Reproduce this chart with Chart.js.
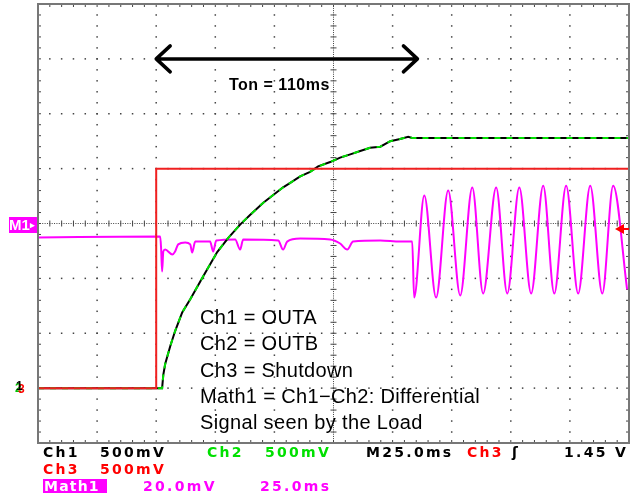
<!DOCTYPE html>
<html>
<head>
<meta charset="utf-8">
<script src="https://cdn.jsdelivr.net/npm/chart.js@4.4.1/dist/chart.umd.min.js"></script>
<style>
  body { margin: 0; background: #fff; }
  #wrap { position: relative; width: 634px; height: 499px; overflow: hidden; }
  #scope { position: absolute; left: 0; top: 0; }
  .t { position: absolute; white-space: nowrap; }
  .st { font: bold 14px "DejaVu Sans", sans-serif; line-height: 14px; letter-spacing: 2.3px; }
  .note { font: 20px "Liberation Sans", Arial, sans-serif; line-height: 26.25px; letter-spacing: 0.35px; color: #000; }
</style>
</head>
<body>
<div id="wrap">
  <canvas id="scope" width="634" height="499"></canvas>

  <div class="t" style="left:229px;top:77px;font:bold 16px 'Liberation Sans',Arial,sans-serif;line-height:16px;letter-spacing:0.5px;">Ton = 110ms</div>

  <div class="t note" style="left:200px;top:304px;">Ch1 = OUTA<br>Ch2 = OUTB<br>Ch3 = Shutdown<br>Math1 = Ch1&minus;Ch2: Differential<br>Signal seen by the Load</div>

  <div class="t" style="left:9px;top:217px;width:28px;height:16px;background:#ff00ff;color:#fff;font:bold 15px 'Liberation Sans',Arial,sans-serif;line-height:16px;">M1<span style="font-size:9px;vertical-align:2px;">&#9656;</span></div>
  <div class="t" style="left:15px;top:381px;font:bold 12px 'Liberation Sans',Arial,sans-serif;line-height:14px;color:#00c000;">2</div>
  <div class="t" style="left:18px;top:382px;font:bold 12px 'Liberation Sans',Arial,sans-serif;line-height:14px;color:#ff0000;">3</div>
  <div class="t" style="left:16px;top:379px;font:bold 12px 'Liberation Sans',Arial,sans-serif;line-height:14px;color:#000;">1</div>

  <div class="t st" style="left:43px;top:445px;color:#000;">Ch1</div>
  <div class="t st" style="left:100px;top:445px;color:#000;">500mV</div>
  <div class="t st" style="left:207px;top:445px;color:#00e000;">Ch2</div>
  <div class="t st" style="left:265px;top:445px;color:#00e000;">500mV</div>
  <div class="t st" style="left:366px;top:445px;color:#000;">M25.0ms</div>
  <div class="t st" style="left:467px;top:445px;color:#ff0000;">Ch3</div>
  <div class="t st" style="left:512px;top:445px;color:#000;">&#643;</div>
  <div class="t st" style="left:564px;top:445px;color:#000;">1.45 V</div>

  <div class="t st" style="left:43px;top:462px;color:#ff0000;">Ch3</div>
  <div class="t st" style="left:100px;top:462px;color:#ff0000;">500mV</div>

  <div class="t st" style="left:43px;top:479px;width:63px;height:14px;background:#ff00ff;color:#fff;letter-spacing:1.2px;padding-left:1px;">Math1</div>
  <div class="t st" style="left:143px;top:479px;color:#ff00ff;">20.0mV</div>
  <div class="t st" style="left:260px;top:479px;color:#ff00ff;">25.0ms</div>
</div>

<script>
// time in ms relative to shutdown edge, 25 ms/div
var chTime = [-50, 2.5, 3.0, 3.8, 5.9, 8.0, 11.0, 14.4, 19.9, 25.8, 30.5, 35.5, 39.8, 45.3, 49.5, 53.7, 56.7,
              60.9, 65.1, 68.5, 73.6, 77.8, 82.1, 86.3, 90.5, 94.8, 99.0, 103.2, 106.6, 108.3, 200];
var ch1Volts = [0, 0, 0.12, 0.22, 0.38, 0.52, 0.69, 0.81, 1.02, 1.24, 1.37, 1.49, 1.58, 1.69, 1.76, 1.83, 1.87,
                1.93, 1.97, 2.02, 2.06, 2.10, 2.13, 2.16, 2.19, 2.20, 2.25, 2.27, 2.29, 2.28, 2.28];
var ch2Volts = [0, 0, 0.12, 0.22, 0.38, 0.52, 0.69, 0.81, 1.02, 1.24, 1.37, 1.49, 1.58, 1.69, 1.76, 1.83, 1.87,
                1.93, 1.97, 2.02, 2.06, 2.10, 2.13, 2.16, 2.19, 2.20, 2.25, 2.27, 2.29, 2.28, 2.28];

var ch3Time = [-50, 0, 0, 200];
var ch3Volts = [0, 0, 2.0, 2.0];

var mathTime = [-50, 1.7, 2.1, 2.5, 3.0, 3.8, 6.8, 8.0, 9.3, 12.3, 14.4, 15.2, 16.5, 22.8, 24.1, 25.4, 33.4, 35.5,
                36.8, 51.6, 53.7, 55.4, 60.9, 73.6, 77.8, 80.8, 83.3, 94.8, 103.2, 108.3,
                109.1, 113.4, 118.4, 123.5, 128.6, 133.7, 138.3, 143.8, 148.5, 153.6, 158.6, 163.7, 168.4,
                173.4, 178.5, 183.6, 188.7, 193.3, 199.2];
var mathMv = [-5.1, -4.7, -9.5, -17.5, -10.2, -9.5, -11.3, -10.2, -7.6, -6.9, -7.6, -10.6, -6.6, -6.6, -10.2, -6.2, -5.8, -9.5,
              -5.8, -6.2, -9.5, -6.6, -5.5, -5.8, -7.3, -9.5, -6.6, -6.2, -6.6, -6.6,
              -27.0, 10.2, -27.0, 12.0, -26.2, 13.1, -25.5, 13.1, -25.5, 13.1, -25.5, 13.8, -25.5,
              13.8, -25.5, 13.8, -25.5, 13.8, -24.0];

var voltsPerDiv = 0.5, chGround = -3;   // ch1..3 ground marker 3 div below centre
var mvPerDiv = 20, mathRef = 0;          // M1 marker at centre
var triggerVolts = 1.45;
var tonStart = 0, tonEnd = 110.5, tonLevel = 3;

function chPoints(t, v) {
    return t.map(function (x, i) { return { x: x, y: v[i] / voltsPerDiv + chGround }; });
}
function mathPoints(t, v) {
    return t.map(function (x, i) { return { x: x, y: v[i] / mvPerDiv + mathRef }; });
}

var graticule = {
    id: 'graticule',
    beforeDatasetsDraw: function (chart) {
        var ctx = chart.ctx, a = chart.chartArea, xs = chart.scales.x, ys = chart.scales.y;
        var dx = (a.right - a.left) / 50, dy = (a.bottom - a.top) / 40;
        var cx = xs.getPixelForValue(75), cy = ys.getPixelForValue(0);
        ctx.save();
        ctx.fillStyle = '#444';
        xs.ticks.forEach(function (tk) {
            var px = xs.getPixelForValue(tk.value);
            if (tk.value === 75 || px <= a.left + 1 || px >= a.right - 1) return;
            for (var j = 1; j < 40; j++) ctx.fillRect(px - 0.75, a.top + j * dy - 0.75, 1.5, 1.5);
        });
        ys.ticks.forEach(function (tk) {
            var py = ys.getPixelForValue(tk.value);
            if (tk.value === 0 || py <= a.top + 1 || py >= a.bottom - 1) return;
            for (var j = 1; j < 50; j++) ctx.fillRect(a.left + j * dx - 0.75, py - 0.75, 1.5, 1.5);
        });
        // centre lines: dense dots with small crosses
        var k;
        for (k = 0; k < 250; k++) ctx.fillRect(a.left + k * dx / 5 - 0.5, cy - 0.5, 1, 1);
        for (k = 0; k < 200; k++) ctx.fillRect(cx - 0.5, a.top + k * dy / 5 - 0.5, 1, 1);
        for (k = 1; k < 50; k++) ctx.fillRect(a.left + k * dx - 0.5, cy - 3, 1, 6);
        for (k = 1; k < 40; k++) ctx.fillRect(cx - 3, a.top + k * dy - 0.5, 6, 1);
        // border ticks
        for (k = 1; k < 50; k++) {
            ctx.fillRect(a.left + k * dx - 0.5, a.top, 1, 3);
            ctx.fillRect(a.left + k * dx - 0.5, a.bottom - 3, 1, 3);
        }
        for (k = 1; k < 40; k++) {
            ctx.fillRect(a.left, a.top + k * dy - 0.5, 3, 1);
            ctx.fillRect(a.right - 3, a.top + k * dy - 0.5, 3, 1);
        }
        ctx.restore();
    },
    afterDatasetsDraw: function (chart) {
        var ctx = chart.ctx, a = chart.chartArea, xs = chart.scales.x, ys = chart.scales.y;
        ctx.save();
        ctx.strokeStyle = '#777';
        ctx.lineWidth = 2;
        ctx.strokeRect(a.left, a.top, a.right - a.left, a.bottom - a.top);

        // Ton arrow
        var xa = xs.getPixelForValue(tonStart), xb = xs.getPixelForValue(tonEnd), y0 = ys.getPixelForValue(tonLevel);
        ctx.strokeStyle = '#000';
        ctx.lineWidth = 3.5;
        ctx.lineCap = 'round';
        ctx.lineJoin = 'round';
        ctx.beginPath();
        ctx.moveTo(xa, y0); ctx.lineTo(xb, y0);
        ctx.moveTo(xa + 14, y0 - 13); ctx.lineTo(xa, y0); ctx.lineTo(xa + 14, y0 + 13);
        ctx.moveTo(xb - 14, y0 - 13); ctx.lineTo(xb, y0); ctx.lineTo(xb - 14, y0 + 13);
        ctx.stroke();

        // trigger level marker (ch3)
        var yt = ys.getPixelForValue(triggerVolts / voltsPerDiv + chGround);
        ctx.fillStyle = '#ff0000';
        ctx.beginPath();
        ctx.moveTo(a.right - 14, yt);
        ctx.lineTo(a.right - 5, yt - 5);
        ctx.lineTo(a.right - 5, yt + 5);
        ctx.closePath();
        ctx.fill();
        ctx.fillRect(a.right - 6, yt - 1, 6, 2);
        ctx.restore();
    }
};

new Chart(document.getElementById('scope'), {
    type: 'line',
    data: {
        datasets: [
            {
                label: 'Ch3',
                data: chPoints(ch3Time, ch3Volts),
                borderColor: '#f02020',
                borderWidth: 2
            },
            {
                label: 'Ch2',
                data: chPoints(chTime, ch2Volts),
                borderColor: '#00e000',
                borderWidth: 2,
                borderDash: [6, 6]
            },
            {
                label: 'Ch1',
                data: chPoints(chTime, ch1Volts),
                borderColor: '#000000',
                borderWidth: 2
            },
            {
                label: 'Math1',
                data: mathPoints(mathTime, mathMv),
                borderColor: '#ff00ff',
                borderWidth: 2,
                cubicInterpolationMode: 'monotone'
            }
        ]
    },
    options: {
        responsive: false,
        animation: false,
        devicePixelRatio: 1,
        layout: { padding: { left: 38, right: 5, top: 4, bottom: 56 } },
        elements: { point: { radius: 0 }, line: { tension: 0 } },
        plugins: { legend: { display: false }, tooltip: { enabled: false } },
        scales: {
            x: { type: 'linear', min: -50, max: 200, ticks: { stepSize: 25 }, display: false },
            y: { min: -4, max: 4, ticks: { stepSize: 1 }, display: false }
        }
    },
    plugins: [graticule]
});
</script>
</body>
</html>
